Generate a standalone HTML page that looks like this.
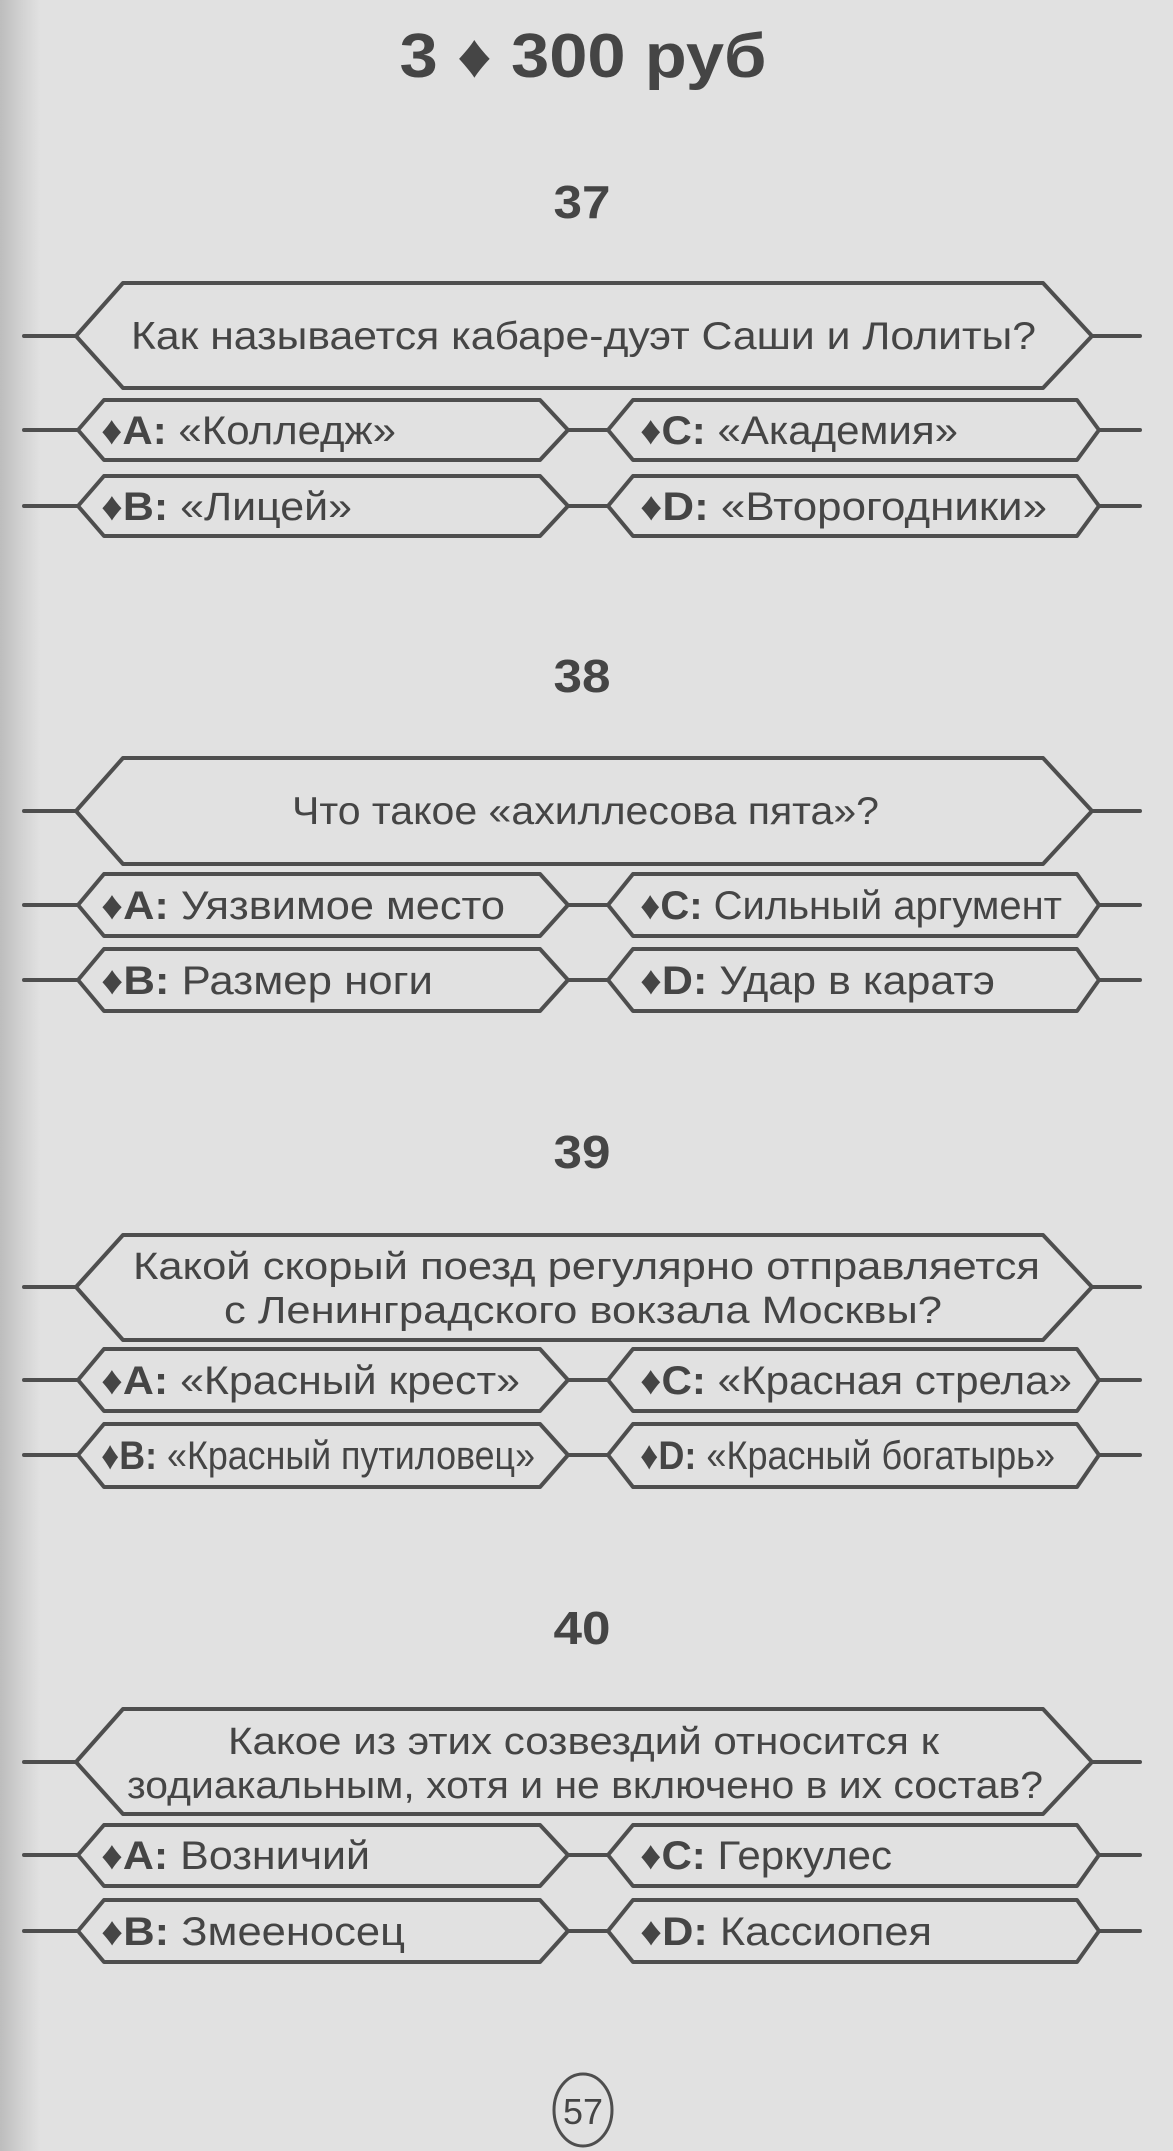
<!DOCTYPE html>
<html><head><meta charset="utf-8"><style>
html,body{margin:0;padding:0;}
body{width:1173px;height:2151px;overflow:hidden;background:#e1e1e1;}
svg{display:block;}
text{font-family:"Liberation Sans",Arial,sans-serif;fill:#454545;}
.b{font-weight:bold;}
.s{fill:none;stroke:#4e4e4e;stroke-width:4;stroke-linejoin:round;stroke-linecap:round;}
</style></head><body>
<svg width="1173" height="2151" viewBox="0 0 1173 2151" xmlns="http://www.w3.org/2000/svg">
<defs>
<linearGradient id="edge" x1="0" x2="1" y1="0" y2="0">
<stop offset="0" stop-color="#bdbdbd"/><stop offset="0.6" stop-color="#d4d4d4"/><stop offset="1" stop-color="#e1e1e1"/>
</linearGradient>
</defs>
<rect x="0" y="0" width="40" height="2151" fill="url(#edge)"/>

<text x="583" y="77" class="b" font-size="62" text-anchor="middle" textLength="367" lengthAdjust="spacingAndGlyphs">3 ♦ 300 руб</text>

<!-- 37 -->
<text x="582" y="218" class="b" font-size="46" text-anchor="middle" textLength="57" lengthAdjust="spacingAndGlyphs">37</text>
<path class="s" d="M24 336 H76 L123 283 H1043 L1092 336 L1043 388 H123 L76 336 M1092 336 H1140"/>
<text x="131" y="349" font-size="39" textLength="905" lengthAdjust="spacingAndGlyphs">Как называется кабаре-дуэт Саши и Лолиты?</text>
<path class="s" d="M24 430 H78 L104 400 H540 L568 430 L540 460 H104 L78 430 M568 430 H608 L633 400 H1077 L1099 430 L1077 460 H633 L608 430 M1099 430 H1140"/>
<path class="s" d="M24 506 H78 L104 476 H540 L568 506 L540 536 H104 L78 506 M568 506 H608 L633 476 H1077 L1099 506 L1077 536 H633 L608 506 M1099 506 H1140"/>
<text x="101" y="444" font-size="40" textLength="295" lengthAdjust="spacingAndGlyphs"><tspan class="b">♦A:</tspan> «Колледж»</text>
<text x="640" y="444" font-size="40" textLength="318" lengthAdjust="spacingAndGlyphs"><tspan class="b">♦C:</tspan> «Академия»</text>
<text x="101" y="520" font-size="40" textLength="251" lengthAdjust="spacingAndGlyphs"><tspan class="b">♦B:</tspan> «Лицей»</text>
<text x="640" y="520" font-size="40" textLength="407" lengthAdjust="spacingAndGlyphs"><tspan class="b">♦D:</tspan> «Второгодники»</text>

<!-- 38 -->
<text x="582" y="692" class="b" font-size="46" text-anchor="middle" textLength="57" lengthAdjust="spacingAndGlyphs">38</text>
<path class="s" d="M24 811 H76 L123 758 H1043 L1092 811 L1043 864 H123 L76 811 M1092 811 H1140"/>
<text x="292" y="824" font-size="39" textLength="587" lengthAdjust="spacingAndGlyphs">Что такое «ахиллесова пята»?</text>
<path class="s" d="M24 905 H78 L104 874 H540 L568 905 L540 936 H104 L78 905 M568 905 H608 L633 874 H1077 L1099 905 L1077 936 H633 L608 905 M1099 905 H1140"/>
<path class="s" d="M24 980 H78 L104 949 H540 L568 980 L540 1011 H104 L78 980 M568 980 H608 L633 949 H1077 L1099 980 L1077 1011 H633 L608 980 M1099 980 H1140"/>
<text x="101" y="919" font-size="40" textLength="404" lengthAdjust="spacingAndGlyphs"><tspan class="b">♦A:</tspan> Уязвимое место</text>
<text x="640" y="919" font-size="40" textLength="422" lengthAdjust="spacingAndGlyphs"><tspan class="b">♦C:</tspan> Сильный аргумент</text>
<text x="101" y="994" font-size="40" textLength="332" lengthAdjust="spacingAndGlyphs"><tspan class="b">♦B:</tspan> Размер ноги</text>
<text x="640" y="994" font-size="40" textLength="355" lengthAdjust="spacingAndGlyphs"><tspan class="b">♦D:</tspan> Удар в каратэ</text>

<!-- 39 -->
<text x="582" y="1168" class="b" font-size="46" text-anchor="middle" textLength="57" lengthAdjust="spacingAndGlyphs">39</text>
<path class="s" d="M24 1287 H76 L123 1235 H1043 L1092 1287 L1043 1340 H123 L76 1287 M1092 1287 H1140"/>
<text x="133" y="1279" font-size="38" textLength="907" lengthAdjust="spacingAndGlyphs">Какой скорый поезд регулярно отправляется</text>
<text x="224" y="1323" font-size="38" textLength="718" lengthAdjust="spacingAndGlyphs">с Ленинградского вокзала Москвы?</text>
<path class="s" d="M24 1380 H78 L104 1349 H540 L568 1380 L540 1411 H104 L78 1380 M568 1380 H608 L633 1349 H1077 L1099 1380 L1077 1411 H633 L608 1380 M1099 1380 H1140"/>
<path class="s" d="M24 1455 H78 L104 1424 H540 L568 1455 L540 1487 H104 L78 1455 M568 1455 H608 L633 1424 H1077 L1099 1455 L1077 1487 H633 L608 1455 M1099 1455 H1140"/>
<text x="101" y="1394" font-size="40" textLength="419" lengthAdjust="spacingAndGlyphs"><tspan class="b">♦A:</tspan> «Красный крест»</text>
<text x="640" y="1394" font-size="40" textLength="432" lengthAdjust="spacingAndGlyphs"><tspan class="b">♦C:</tspan> «Красная стрела»</text>
<text x="101" y="1469" font-size="40" textLength="434" lengthAdjust="spacingAndGlyphs"><tspan class="b">♦B:</tspan> «Красный путиловец»</text>
<text x="640" y="1469" font-size="40" textLength="415" lengthAdjust="spacingAndGlyphs"><tspan class="b">♦D:</tspan> «Красный богатырь»</text>

<!-- 40 -->
<text x="582" y="1644" class="b" font-size="46" text-anchor="middle" textLength="57" lengthAdjust="spacingAndGlyphs">40</text>
<path class="s" d="M24 1762 H76 L123 1709 H1043 L1092 1762 L1043 1814 H123 L76 1762 M1092 1762 H1140"/>
<text x="228" y="1754" font-size="38" textLength="711" lengthAdjust="spacingAndGlyphs">Какое из этих созвездий относится к</text>
<text x="127" y="1798" font-size="38" textLength="916" lengthAdjust="spacingAndGlyphs">зодиакальным, хотя и не включено в их состав?</text>
<path class="s" d="M24 1855 H78 L104 1825 H540 L568 1855 L540 1886 H104 L78 1855 M568 1855 H608 L633 1825 H1077 L1099 1855 L1077 1886 H633 L608 1855 M1099 1855 H1140"/>
<path class="s" d="M24 1931 H78 L104 1900 H540 L568 1931 L540 1962 H104 L78 1931 M568 1931 H608 L633 1900 H1077 L1099 1931 L1077 1962 H633 L608 1931 M1099 1931 H1140"/>
<text x="101" y="1869" font-size="40" textLength="269" lengthAdjust="spacingAndGlyphs"><tspan class="b">♦A:</tspan> Возничий</text>
<text x="640" y="1869" font-size="40" textLength="252" lengthAdjust="spacingAndGlyphs"><tspan class="b">♦C:</tspan> Геркулес</text>
<text x="101" y="1945" font-size="40" textLength="304" lengthAdjust="spacingAndGlyphs"><tspan class="b">♦B:</tspan> Змееносец</text>
<text x="640" y="1945" font-size="40" textLength="292" lengthAdjust="spacingAndGlyphs"><tspan class="b">♦D:</tspan> Кассиопея</text>

<ellipse cx="583" cy="2110" rx="29" ry="36" fill="none" stroke="#4e4e4e" stroke-width="3"/>
<text x="583" y="2124" font-size="36" text-anchor="middle" textLength="40" lengthAdjust="spacingAndGlyphs">57</text>
</svg>
</body></html>
